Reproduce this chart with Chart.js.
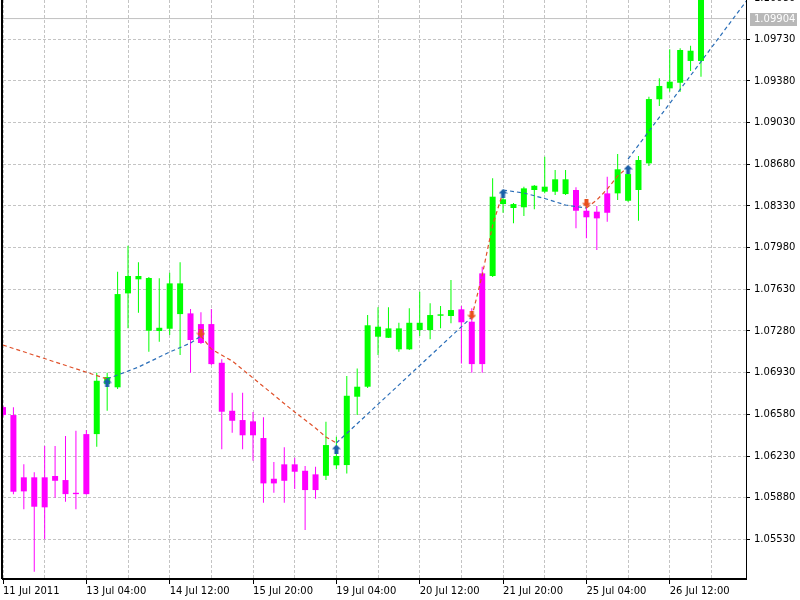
<!DOCTYPE html>
<html>
<head>
<meta charset="utf-8">
<title>EURUSD H4</title>
<script src="https://cdn.jsdelivr.net/npm/chart.js@4.4.1/dist/chart.umd.min.js"></script>
<style>
  html, body { margin: 0; padding: 0; background: #FFFFFF; }
  #chart { display: block; }
</style>
</head>
<body>
<canvas id="chart" width="800" height="600"></canvas>
<script>
// ============ DATA (H4 bars, 11 Jul 20:00 .. 27 Jul 00:00) ============
const opens = [
  1.06641, 1.06574, 1.06051, 1.06051, 1.06051, 1.06062, 1.06028, 1.05921, 1.06414, 1.06414,
  1.06834, 1.06807, 1.07596, 1.07714, 1.07282, 1.07280, 1.07299, 1.07422, 1.07428, 1.07338,
  1.07338, 1.07013, 1.06610, 1.06532, 1.06521, 1.06381, 1.06039, 1.06160, 1.06160, 1.06106,
  1.06076, 1.06064, 1.06152, 1.06154, 1.06728, 1.06812, 1.07232, 1.07223, 1.07126, 1.07126,
  1.07288, 1.07288, 1.07408, 1.07406, 1.07462, 1.07358, 1.07764, 1.07742, 1.08346, 1.08313,
  1.08319, 1.08464, 1.08450, 1.08450, 1.08430, 1.08464, 1.08290, 1.08282, 1.08436, 1.08436,
  1.08374, 1.08464, 1.08688, 1.09226, 1.09318, 1.09365, 1.09548, 1.09548
];
const highs = [
  1.06650, 1.06639, 1.06160, 1.06093, 1.06314, 1.06314, 1.06398, 1.06442, 1.06448, 1.06929,
  1.06929, 1.07778, 1.07996, 1.07857, 1.07733, 1.07722, 1.07769, 1.07857, 1.07465, 1.07437,
  1.07465, 1.07042, 1.06761, 1.06761, 1.06599, 1.06555, 1.06179, 1.06303, 1.06215, 1.06146,
  1.06140, 1.06518, 1.06392, 1.06902, 1.06966, 1.07414, 1.07479, 1.07479, 1.07349, 1.07470,
  1.07610, 1.07512, 1.07490, 1.07708, 1.07490, 1.07470, 1.07820, 1.08562, 1.08464, 1.08355,
  1.08492, 1.08506, 1.08744, 1.08632, 1.08632, 1.08487, 1.08352, 1.08330, 1.08576, 1.08766,
  1.08660, 1.08750, 1.09248, 1.09402, 1.09646, 1.09654, 1.09676, 1.10150
];
const lows = [
  1.06560, 1.05908, 1.05782, 1.05258, 1.05530, 1.05879, 1.05846, 1.05782, 1.05905, 1.06308,
  1.06610, 1.06792, 1.07302, 1.07433, 1.07106, 1.07190, 1.07246, 1.07078, 1.06929, 1.07170,
  1.06994, 1.06286, 1.06425, 1.06286, 1.06190, 1.05837, 1.05921, 1.05837, 1.05952, 1.05608,
  1.05871, 1.06028, 1.06118, 1.06084, 1.06574, 1.06801, 1.07078, 1.07221, 1.07106, 1.07120,
  1.07238, 1.07210, 1.07302, 1.07344, 1.07008, 1.06929, 1.06929, 1.07733, 1.08273, 1.08184,
  1.08246, 1.08302, 1.08436, 1.08422, 1.08422, 1.08142, 1.08058, 1.07960, 1.08198, 1.08380,
  1.08366, 1.08206, 1.08666, 1.09170, 1.09290, 1.09290, 1.09464, 1.09416
];
const closes = [
  1.06574, 1.05930, 1.05933, 1.05804, 1.05799, 1.06022, 1.05910, 1.05910, 1.05910, 1.06862,
  1.06893, 1.07590, 1.07742, 1.07742, 1.07725, 1.07307, 1.07680, 1.07680, 1.07204, 1.07179,
  1.07002, 1.06602, 1.06526, 1.06404, 1.06404, 1.06000, 1.06000, 1.06022, 1.06098, 1.05944,
  1.05944, 1.06322, 1.06230, 1.06736, 1.06812, 1.07328, 1.07316, 1.07302, 1.07302, 1.07349,
  1.07349, 1.07414, 1.07420, 1.07456, 1.07353, 1.07002, 1.07002, 1.08408, 1.08386, 1.08346,
  1.08478, 1.08500, 1.08492, 1.08554, 1.08554, 1.08290, 1.08235, 1.08226, 1.08273, 1.08638,
  1.08598, 1.08716, 1.09228, 1.09338, 1.09374, 1.09640, 1.09634, 1.10110
];

// trend line (bar index, price); null = break
const redLine = [
  [0, 1.07162], [10, 1.06877], null,
  [19, 1.07238], [20, 1.07128], [22, 1.07028], [24, 1.06885], [26, 1.06742],
  [28, 1.06599], [30, 1.06465], [31, 1.06389], [32, 1.06339], null,
  [45, 1.07397], [46, 1.07750], [47, 1.08170], [48, 1.08447], null,
  [56, 1.08313], [57, 1.08380], [58, 1.08472], [59, 1.08582], [60, 1.08657]
];
const blueLine = [
  [10, 1.06877], [13, 1.06977], [16, 1.07103], [18, 1.07179], [19, 1.07238], null,
  [32, 1.06339], [45, 1.07397], null,
  [48, 1.08464], [50, 1.08439], [52, 1.08393], [54, 1.08338], [56, 1.08313], null,
  [60, 1.08724], [72, 1.10127]
];

// signal arrows
const upIdx = [10, 32, 48, 60];
const upVal = [1.06845, 1.06288, 1.08436, 1.08638];
const downIdx = [19, 45, 56];
const downVal = [1.07263, 1.07414, 1.08355];

const currentPrice = 1.09904;

// axes
const yTicks = [1.05530, 1.05880, 1.06230, 1.06580, 1.06930, 1.07280, 1.07630,
                1.07980, 1.08330, 1.08680, 1.09030, 1.09380, 1.09730, 1.10080];
const xLabels = ['11 Jul 2011', '13 Jul 04:00', '14 Jul 12:00', '15 Jul 20:00', '19 Jul 04:00',
                 '20 Jul 12:00', '21 Jul 20:00', '25 Jul 04:00', '26 Jul 12:00'];

// ============ HELPERS ============
const BULL = '#00FF00';
const BEAR = '#FF00FF';
const candleColors = opens.map((o, i) => closes[i] >= o ? BULL : BEAR);

function toPoints(pairs) {
  return pairs.map((p, k) => p ? { x: p[0], y: p[1] } : { x: pairs[k - 1][0], y: null });
}

function makeArrow(color, up) {
  const c = document.createElement('canvas');
  c.width = 9; c.height = 9;
  const g = c.getContext('2d');
  g.fillStyle = color;
  g.beginPath();
  if (up) {
    g.moveTo(4.5, 0); g.lineTo(9, 4.5); g.lineTo(6.5, 4.5); g.lineTo(6.5, 9);
    g.lineTo(2.5, 9); g.lineTo(2.5, 4.5); g.lineTo(0, 4.5);
  } else {
    g.moveTo(4.5, 9); g.lineTo(9, 4.5); g.lineTo(6.5, 4.5); g.lineTo(6.5, 0);
    g.lineTo(2.5, 0); g.lineTo(2.5, 4.5); g.lineTo(0, 4.5);
  }
  g.closePath();
  g.fill();
  return c;
}

// frame on the left + current price tag on the price axis
const mtDecor = {
  id: 'mtDecor',
  afterDraw(chart) {
    const { ctx, chartArea, scales } = chart;
    ctx.save();
    ctx.strokeStyle = '#000000';
    ctx.lineWidth = 2;
    ctx.beginPath();
    ctx.moveTo(chartArea.left - 1, 0);
    ctx.lineTo(chartArea.left - 1, chartArea.bottom);
    ctx.stroke();

    // top price label, cut by the window edge
    const yTop = scales.y.getPixelForValue(yTicks[yTicks.length - 1]);
    ctx.fillStyle = '#000000';
    ctx.font = '10px "DejaVu Sans"';
    ctx.textBaseline = 'middle';
    ctx.fillText(yTicks[yTicks.length - 1].toFixed(5), chartArea.right + 8, yTop + 1);

    const y = scales.y.getPixelForValue(currentPrice);
    ctx.fillStyle = '#B8B8B8';
    ctx.fillRect(chartArea.right + 4, Math.round(y) - 6, 47, 13);
    ctx.fillStyle = '#FFFFFF';
    ctx.fillText(currentPrice.toFixed(5), chartArea.right + 8, Math.round(y) + 0.5);
    ctx.restore();
  }
};

Chart.defaults.font.family = '"DejaVu Sans", sans-serif';
Chart.defaults.font.size = 10;
Chart.defaults.color = '#000000';

const idx = opens.map((_, i) => i);

const ctx = document.getElementById('chart').getContext('2d');
window.mtChart = new Chart(ctx, {
  type: 'bar',
  data: {
    datasets: [
      {
        type: 'line',
        label: 'buy',
        data: upIdx.map((x, k) => ({ x, y: upVal[k] })),
        showLine: false,
        pointStyle: makeArrow('#1A5FA8', true),
        pointRadius: 5,
        order: 0
      },
      {
        type: 'line',
        label: 'sell',
        data: downIdx.map((x, k) => ({ x, y: downVal[k] })),
        showLine: false,
        pointStyle: makeArrow('#E8501E', false),
        pointRadius: 5,
        order: 0
      },
      {
        type: 'line',
        label: 'down',
        data: toPoints(redLine),
        borderColor: '#E0502A',
        borderWidth: 1.2,
        borderDash: [4, 3],
        pointRadius: 0,
        spanGaps: false,
        order: 1
      },
      {
        type: 'line',
        label: 'up',
        data: toPoints(blueLine),
        borderColor: '#2A6EB8',
        borderWidth: 1.2,
        borderDash: [4, 3],
        pointRadius: 0,
        spanGaps: false,
        order: 1
      },
      {
        label: 'body',
        data: idx.map(i => ({ x: i, y: [opens[i], closes[i]] })),
        backgroundColor: candleColors,
        borderWidth: 0,
        barThickness: 6,
        grouped: false,
        inflateAmount: 0,
        order: 2
      },
      {
        label: 'wick',
        data: idx.map(i => ({ x: i, y: [lows[i], highs[i]] })),
        backgroundColor: candleColors,
        borderWidth: 0,
        barThickness: 1,
        grouped: false,
        inflateAmount: 0,
        order: 3
      },
      {
        type: 'line',
        label: 'price',
        data: [{ x: -1, y: currentPrice }, { x: 73, y: currentPrice }],
        borderColor: '#C0C0C0',
        borderWidth: 1,
        pointRadius: 0,
        order: 4
      }
    ]
  },
  options: {
    responsive: false,
    animation: false,
    events: [],
    layout: { autoPadding: false, padding: { left: 3, top: 0, right: 0, bottom: 0 } },
    plugins: {
      legend: { display: false },
      tooltip: { enabled: false }
    },
    scales: {
      x: {
        type: 'linear',
        position: 'bottom',
        min: 0,
        max: 71.32,
        offset: false,
        grid: {
          offset: false,
          color: '#C4C4C4',
          tickLength: 5,
          tickColor: c => (c.tick && c.tick.value % 8 === 0) ? '#000000' : 'rgba(0,0,0,0)'
        },
        border: { display: true, color: '#000000', width: 2, dash: [3, 2] },
        afterBuildTicks: s => {
          const t = [];
          for (let v = 0; v <= 68; v += 4) t.push({ value: v });
          s.ticks = t;
        },
        afterFit: s => { s.height = 21; s.paddingLeft = 0; s.paddingRight = 0; },
        ticks: {
          autoSkip: false,
          maxRotation: 0,
          align: 'start',
          padding: 1,
          callback: v => v % 8 === 0 ? xLabels[v / 8] : ''
        }
      },
      y: {
        type: 'linear',
        position: 'right',
        min: 1.05197,
        max: 1.10060,
        grid: { color: '#C4C4C4', tickLength: 4, tickColor: '#000000' },
        border: { display: true, color: '#000000', width: 1, dash: [3, 2] },
        afterBuildTicks: s => { s.ticks = yTicks.map(v => ({ value: v })); },
        afterFit: s => { s.width = 54; s.paddingTop = 0; s.paddingBottom = 0; },
        ticks: {
          autoSkip: false,
          padding: 4,
          callback: v => Number(v).toFixed(5)
        }
      }
    }
  },
  plugins: [mtDecor]
});
</script>
</body>
</html>
